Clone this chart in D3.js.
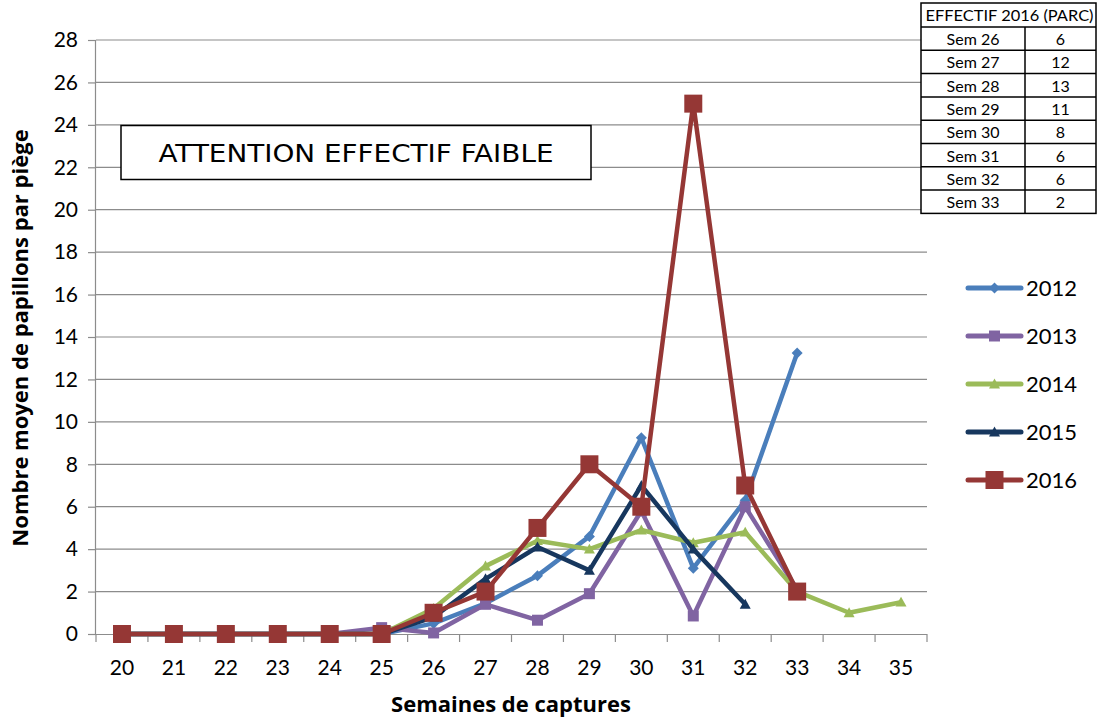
<!DOCTYPE html>
<html><head><meta charset="utf-8">
<script src="https://cdn.jsdelivr.net/npm/d3@7"></script>
<style>body{margin:0;background:#fff}svg{display:block}</style>
</head><body>
<svg id="c" width="1097" height="720"></svg>
<script>
const weeks = [20,21,22,23,24,25,26,27,28,29,30,31,32,33,34,35];
const yTicks = [0,2,4,6,8,10,12,14,16,18,20,22,24,26,28];
const s2012 = [0,0,0,0,0,0,0.5,1.45,2.75,4.6,9.25,3.1,6.3,13.25,null,null];
const s2013 = [0,0,0,0,0,0.3,0.05,1.4,0.65,1.9,5.8,0.85,6.0,2.1,null,null];
const s2014 = [0,0,0,0,0,0,1.2,3.2,4.4,4.0,4.9,4.3,4.8,2.0,1.0,1.5];
const s2015 = [0,0,0,0,0,0,0.8,2.6,4.1,3.0,7.0,4.0,1.4,null,null,null];
const s2016 = [0,0,0,0,0,0,1,2,5,8,6,25,7,2,null,null];
const seriesNames = ["2012","2013","2014","2015","2016"];
const tableTitle = "EFFECTIF 2016 (PARC)";
const tableWeeks = ["Sem 26","Sem 27","Sem 28","Sem 29","Sem 30","Sem 31","Sem 32","Sem 33"];
const tableValues = [6,12,13,11,8,6,6,2];
const noteText = "ATTENTION EFFECTIF FAIBLE";
const yTitle = "Nombre moyen de papillons par piège";
const xTitle = "Semaines de captures";

const series = [
  {name:seriesNames[0], values:s2012, color:"#4A7EBB", marker:"diamond", ms:11},
  {name:seriesNames[1], values:s2013, color:"#8064A2", marker:"square", ms:11},
  {name:seriesNames[2], values:s2014, color:"#9BBB59", marker:"triangle", ms:11},
  {name:seriesNames[3], values:s2015, color:"#17375E", marker:"triangle", ms:11},
  {name:seriesNames[4], values:s2016, color:"#953735", marker:"square", ms:18}
];

const svg = d3.select("#c");
const L=96, R=927, T=40, B=634;
const x = d3.scaleBand().domain(weeks).range([L,R]);
const y = d3.scaleLinear().domain([0,28]).range([B,T]);
const FONT = "Lato, 'Open Sans', sans-serif";
const BFONT = "'Open Sans', Lato, sans-serif";

// gridlines
svg.append("g").selectAll("line").data(yTicks.filter(d=>d>0)).join("line")
  .attr("x1",L).attr("x2",R).attr("y1",d=>y(d)).attr("y2",d=>y(d))
  .attr("stroke","#8c8c8c").attr("stroke-width",1.2);

// y axis
const ya = svg.append("g").attr("transform",`translate(${L},0)`)
  .call(d3.axisLeft(y).tickValues(yTicks).tickSize(8).tickPadding(10));
ya.select(".domain").attr("stroke","#8c8c8c").attr("stroke-width",1.2).attr("d",`M-0.5,${T}V${B}`);
ya.selectAll(".tick line").attr("stroke","#8c8c8c").attr("stroke-width",1.2);
ya.selectAll("text").attr("font-family",FONT).attr("font-size",21).attr("fill","#000");

// x axis
const xa = svg.append("g").attr("transform",`translate(0,${B})`)
  .call(d3.axisBottom(x).tickSize(0).tickPadding(26));
xa.select(".domain").attr("stroke","#8c8c8c").attr("stroke-width",1.2).attr("d",`M${L},0.5H${R}`);
xa.selectAll("text").attr("font-family",FONT).attr("font-size",21).attr("fill","#000");
const bounds = weeks.map(w=>x(w)).concat([R]);
svg.append("g").selectAll("line").data(bounds).join("line")
  .attr("x1",d=>d).attr("x2",d=>d).attr("y1",B).attr("y2",B+8)
  .attr("stroke","#8c8c8c").attr("stroke-width",1.2);

// series
const cx = w => x(w)+x.bandwidth()/2;
function markerPath(type, s){
  const h=s/2;
  if(type==="diamond") return `M0,${-h}L${h},0L0,${h}L${-h},0Z`;
  if(type==="square") return `M${-h},${-h}H${h}V${h}H${-h}Z`;
  if(type==="triangle") return `M0,${-h}L${h},${h*0.8}L${-h},${h*0.8}Z`;
}
const line = d3.line().defined(d=>d.v!=null).x(d=>cx(d.w)).y(d=>y(d.v));
series.forEach(s=>{
  const pts = weeks.map((w,i)=>({w, v:s.values[i]}));
  const g = svg.append("g");
  g.append("path").attr("d",line(pts)).attr("fill","none")
    .attr("stroke",s.color).attr("stroke-width",4.5).attr("stroke-linejoin","round");
  g.selectAll("path.m").data(pts.filter(d=>d.v!=null)).join("path").attr("class","m")
    .attr("d",markerPath(s.marker,s.ms))
    .attr("transform",d=>`translate(${cx(d.w)},${y(d.v)})`)
    .attr("fill",s.color);
});

// legend
const lg = svg.append("g");
series.forEach((s,i)=>{
  const ly = 288 + i*48;
  lg.append("line").attr("x1",968).attr("x2",1021).attr("y1",ly).attr("y2",ly)
    .attr("stroke",s.color).attr("stroke-width",5).attr("stroke-linecap","round");
  lg.append("path").attr("d",markerPath(s.marker,s.ms)).attr("transform",`translate(994.5,${ly})`).attr("fill",s.color);
  lg.append("text").attr("x",1026).attr("y",ly+8).text(s.name)
    .attr("font-family",FONT).attr("font-size",22).attr("fill","#000");
});

// note box
svg.append("rect").attr("x",121).attr("y",125.5).attr("width",470).attr("height",54)
  .attr("fill","#fff").attr("stroke","#000").attr("stroke-width",1.5);
svg.append("text").attr("x",356).attr("y",162).attr("text-anchor","middle")
  .attr("font-family","'DejaVu Sans', Verdana, sans-serif").attr("font-size",25)
  .attr("textLength",395).attr("lengthAdjust","spacingAndGlyphs").text(noteText);

// table
const tX0=921, tX1=1025, tX2=1096, tY0=3, hH=24, rH=23.3;
const tg = svg.append("g");
const tH = hH + rH*tableWeeks.length;
tg.append("rect").attr("x",tX0).attr("y",tY0).attr("width",tX2-tX0).attr("height",tH)
  .attr("fill","#fff").attr("stroke","#000").attr("stroke-width",1.5);
tg.append("line").attr("x1",tX1).attr("x2",tX1).attr("y1",tY0+hH).attr("y2",tY0+tH).attr("stroke","#000").attr("stroke-width",1.5);
tg.append("text").attr("x",(tX0+tX2)/2+1).attr("y",tY0+18).attr("text-anchor","middle")
  .attr("font-family",FONT).attr("font-size",16).attr("textLength",168).attr("lengthAdjust","spacingAndGlyphs").text(tableTitle);
tableWeeks.forEach((w,i)=>{
  const ry = tY0+hH+rH*i;
  tg.append("line").attr("x1",tX0).attr("x2",tX2).attr("y1",ry).attr("y2",ry).attr("stroke","#000").attr("stroke-width",1.5);
  tg.append("text").attr("x",(tX0+tX1)/2).attr("y",ry+18).attr("text-anchor","middle")
    .attr("font-family",FONT).attr("font-size",16).text(w);
  tg.append("text").attr("x",(tX1+tX2)/2).attr("y",ry+18).attr("text-anchor","middle")
    .attr("font-family",FONT).attr("font-size",16).text(tableValues[i]);
});

// axis titles
svg.append("text").attr("transform","translate(28,338) rotate(-90)").attr("text-anchor","middle")
  .attr("font-family",BFONT).attr("font-weight","bold").attr("font-size",22).text(yTitle);
svg.append("text").attr("x",511).attr("y",712).attr("text-anchor","middle")
  .attr("font-family",BFONT).attr("font-weight","bold").attr("font-size",22).text(xTitle);
</script>
</body></html>
